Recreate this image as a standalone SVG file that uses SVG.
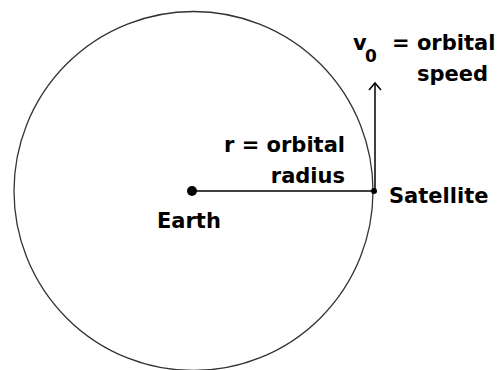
<svg xmlns="http://www.w3.org/2000/svg" width="498" height="370" viewBox="0 0 498 370">
<style>
text{font-family:"DejaVu Sans","Liberation Sans",sans-serif;font-weight:bold;font-size:21px;fill:#000}
.sub{font-size:17px}
.ln{stroke:#000;stroke-width:1.5;fill:none}
</style>
<rect width="498" height="370" fill="#fff"/>
<g id="orbit"><circle cx="193.5" cy="191" r="179.5" fill="none" stroke="#333" stroke-width="1.3"/></g>
<g id="connectors">
<line class="ln" x1="192" y1="191" x2="374" y2="191"/>
<line class="ln" x1="375" y1="191" x2="375" y2="83"/>
<polyline class="ln" points="369,90 375,83 381,90"/>
</g>
<g id="earth"><circle cx="192" cy="191" r="5" fill="#000"/><text x="157" y="228">Earth</text></g>
<g id="satellite"><circle cx="374" cy="191" r="3" fill="#000"/><text x="389" y="203">Satellite</text></g>
<g id="radius-label"><text x="345" y="152" text-anchor="end">r = orbital</text><text x="345" y="183" text-anchor="end">radius</text></g>
<g id="speed-label"><text x="353" y="50">v</text><text class="sub" x="365" y="62">0</text><text x="392" y="50">= orbital</text><text x="417" y="81">speed</text></g>
</svg>
